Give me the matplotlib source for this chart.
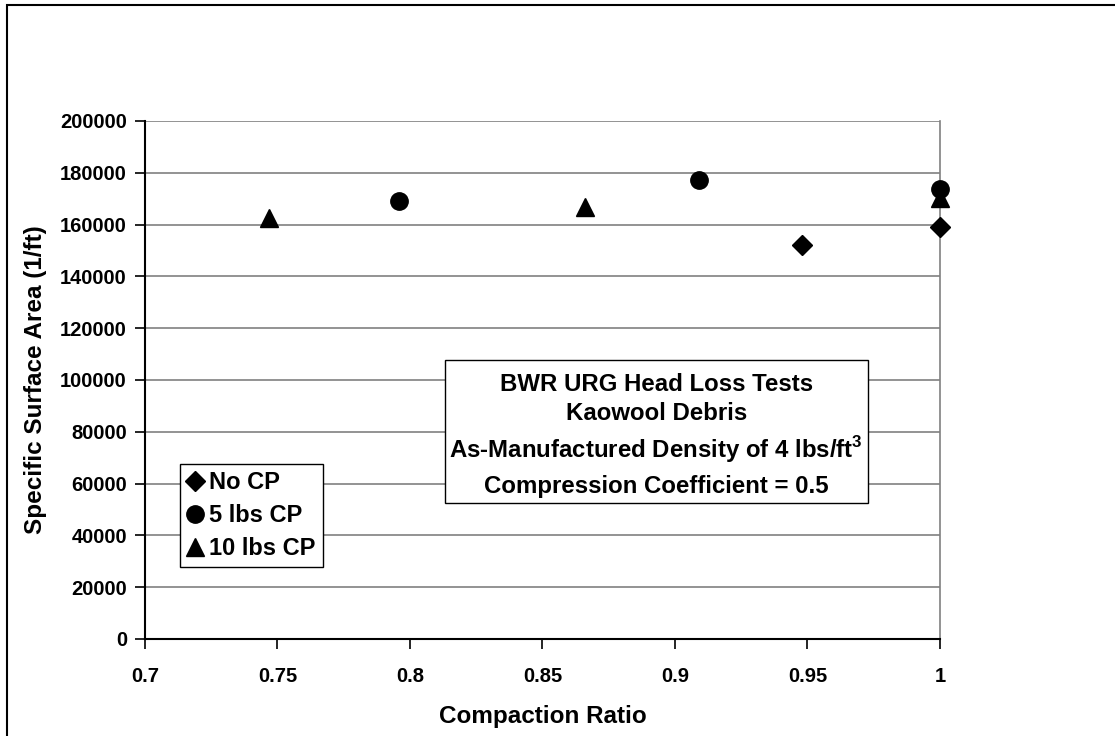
import matplotlib.pyplot as plt
from matplotlib.patches import Rectangle
from matplotlib.ticker import FuncFormatter

plt.rcParams['font.family'] = ['Liberation Sans', 'DejaVu Sans']
plt.rcParams['font.weight'] = 'bold'
plt.rcParams['mathtext.fontset'] = 'custom'
plt.rcParams['mathtext.rm'] = 'Liberation Sans:bold'
plt.rcParams['mathtext.bf'] = 'Liberation Sans:bold'

# compaction ratio vs specific surface area, one series per compression load
ratio_no_cp = [0.948, 1.0]
ssa_no_cp = [152000, 159000]

ratio_5lb = [0.796, 0.909, 1.0]
ssa_5lb = [169200, 177200, 173800]

ratio_10lb = [0.747, 0.866, 1.0]
ssa_10lb = [162500, 166700, 170300]

x_ticks = [0.7, 0.75, 0.8, 0.85, 0.9, 0.95, 1.0]
y_ticks = list(range(0, 200001, 20000))

info_lines = ["BWR URG Head Loss Tests",
              "Kaowool Debris",
              r"As-Manufactured Density of 4 lbs/ft$^{\mathbf{3}}$",
              "Compression Coefficient = 0.5"]

fig = plt.figure(figsize=(11.15, 7.36), dpi=100)
ax = fig.add_axes([0.130, 0.1318, 0.713, 0.7038])

# outer chart border (runs off the right/bottom edge)
fig.patches.append(Rectangle((0.0063, -0.05), 1.2, 0.9932 + 0.05, transform=fig.transFigure,
                             fill=False, edgecolor='black', linewidth=1.5))

ax.plot(ratio_no_cp, ssa_no_cp, linestyle='none', marker='D', ms=10.5, color='black',
        label='No CP', clip_on=False, zorder=5)
ax.plot(ratio_5lb, ssa_5lb, linestyle='none', marker='o', ms=12.5, color='black',
        label='5 lbs CP', clip_on=False, zorder=5)
ax.plot(ratio_10lb, ssa_10lb, linestyle='none', marker='^', ms=13.5, color='black',
        label='10 lbs CP', clip_on=False, zorder=5)

ax.set_xlim(0.7, 1.0)
ax.set_ylim(0, 200000)
ax.set_xticks(x_ticks)
ax.set_yticks(y_ticks)
ax.xaxis.set_major_formatter(FuncFormatter(lambda v, p: '%g' % v))
ax.yaxis.set_major_formatter(FuncFormatter(lambda v, p: '%d' % v))
ax.tick_params(axis='both', direction='out', length=7, width=1.2, labelsize=14.5, color='black')
ax.tick_params(axis='y', pad=6)
ax.tick_params(axis='x', pad=13)

ax.grid(axis='y', color='#808080', linewidth=1.2)
ax.set_axisbelow(True)
ax.spines['left'].set_linewidth(1.5)
ax.spines['bottom'].set_linewidth(1.5)
ax.spines['top'].set_visible(False)
ax.spines['right'].set_color('#808080')
ax.spines['right'].set_linewidth(1.2)

ax.set_xlabel('Compaction Ratio', fontsize=17.5, fontweight='bold')
ax.set_ylabel('Specific Surface Area (1/ft)', fontsize=17.5, fontweight='bold')
ax.xaxis.set_label_coords(0.5, -0.127)
ax.yaxis.set_label_coords(-0.123, 0.5)

leg = ax.legend(loc='lower left', bbox_to_anchor=(0.044, 0.139), borderaxespad=0,
                fancybox=False, edgecolor='black', framealpha=1, fontsize=17,
                handlelength=0.7, handletextpad=0.25, borderpad=0.3, labelspacing=0.42)
leg.get_frame().set_linewidth(1.0)

# text box with test description
ax.add_patch(Rectangle((0.377, 0.2625), 0.532, 0.2765, transform=ax.transAxes,
                       facecolor='white', edgecolor='black', linewidth=1.0, zorder=4))
for txt, yy in zip(info_lines, [0.492, 0.436, 0.365, 0.294]):
    ax.text(0.643, yy, txt, transform=ax.transAxes, ha='center', va='center',
            fontsize=17.3, fontweight='bold', zorder=6)

fig.savefig('out.png', dpi=100)
